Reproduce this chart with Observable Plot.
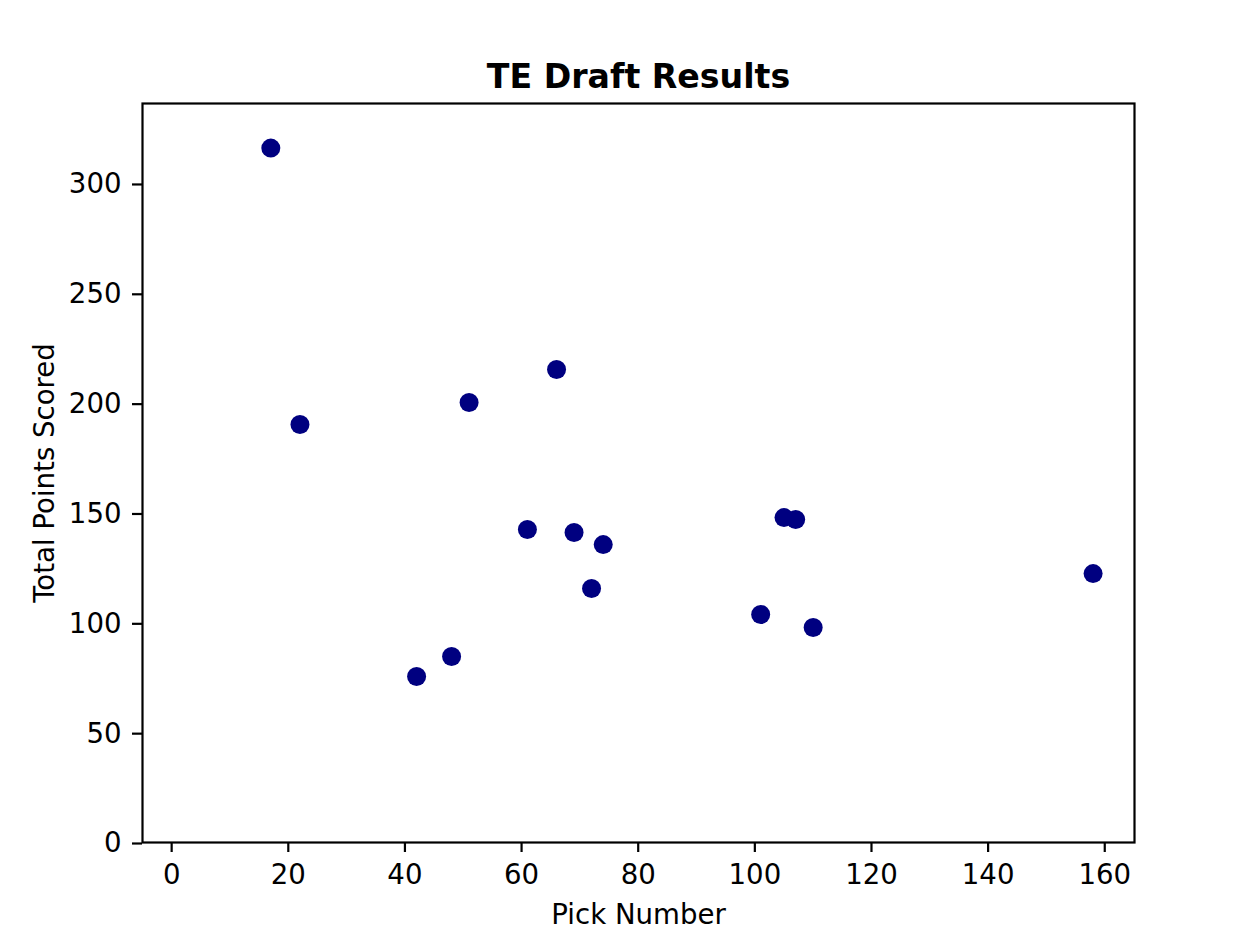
<!DOCTYPE html>
<html>
<head>
<meta charset="utf-8">
<script src="https://cdn.jsdelivr.net/npm/d3@7"></script>
<script src="https://cdn.jsdelivr.net/npm/@observablehq/plot@0.6"></script>
<style>
  html, body { margin: 0; padding: 0; background: #fff; }
  svg { display: block; }
</style>
</head>
<body>
<div id="chart"></div>
<script>
const title = "TE Draft Results";
const xLabel = "Pick Number";
const yLabel = "Total Points Scored";
const pickNumbers = [17, 22, 42, 48, 51, 61, 66, 69, 72, 74, 101, 105, 107, 110, 158];
const totalPoints = [316.1, 190.3, 75.6, 84.7, 200.3, 142.5, 215.3, 141.1, 115.6, 135.6, 103.8, 147.9, 147.0, 97.9, 122.4];
const xTicks = [0, 20, 40, 60, 80, 100, 120, 140, 160];
const yTicks = [0, 50, 100, 150, 200, 250, 300];

const data = pickNumbers.map((p, i) => ({pick: p, points: totalPoints[i]}));

const font = "DejaVu Sans";
const fs = 27.6;
const chart = Plot.plot({
  width: 1244,
  height: 942,
  marginTop: 103,
  marginRight: 110,
  marginBottom: 100,
  marginLeft: 142,
  style: {fontFamily: font, background: "#fff", color: "#000"},
  x: {domain: [-5, 165.1]},
  y: {domain: [0, 336.4]},
  marks: [
    Plot.dot(data, {x: "pick", y: "points", r: 9.5, fill: "#000080", stroke: "none"}),
    Plot.frame({stroke: "#000", strokeWidth: 2.2}),
    Plot.axisX({ticks: xTicks, tickSize: 10, tickPadding: 12, strokeWidth: 2.2, fontSize: fs, label: null, tickFormat: d => String(d)}),
    Plot.axisY({ticks: yTicks, tickSize: 10, tickPadding: 11, strokeWidth: 2.2, fontSize: fs, label: null, tickFormat: d => String(d), dy: 1}),
    Plot.text([title], {text: d => d, frameAnchor: "top", textAnchor: "middle", lineAnchor: "bottom", dy: -16, fontSize: 33.2, fontWeight: "bold", fill: "#000"}),
    Plot.text([xLabel], {text: d => d, frameAnchor: "bottom", textAnchor: "middle", lineAnchor: "bottom", dy: 81, fontSize: fs, fill: "#000"}),
    Plot.text([yLabel], {text: d => d, frameAnchor: "left", textAnchor: "middle", lineAnchor: "bottom", rotate: -90, dx: -89, fontSize: fs, fill: "#000"})
  ]
});
document.getElementById("chart").appendChild(chart);
</script>
</body>
</html>
